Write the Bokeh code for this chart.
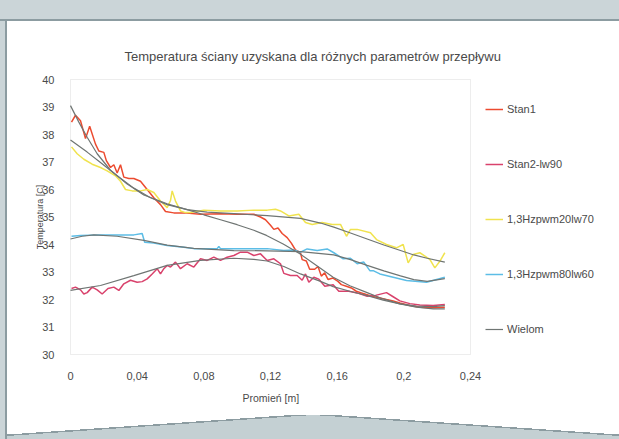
from bokeh.plotting import figure
from bokeh.models import (Range1d, FixedTicker, CustomJSTickFormatter, Legend,
                          LegendItem, BoxAnnotation, Title)
from bokeh.embed import file_html
from bokeh.resources import INLINE

# ---- data: radius [m] and wall temperature [C] ----
stan1_x = [0.0006, 0.003, 0.006, 0.009, 0.0115, 0.015, 0.017, 0.020, 0.0215, 0.024,
           0.026, 0.028, 0.030, 0.032, 0.035, 0.038, 0.042, 0.046, 0.050, 0.054,
           0.057, 0.062, 0.068, 0.078, 0.090, 0.100, 0.110, 0.114, 0.117, 0.120,
           0.122, 0.1245, 0.127, 0.130, 0.1325, 0.135, 0.138, 0.139, 0.1415, 0.1435,
           0.1465, 0.1485, 0.1505, 0.1525, 0.1545, 0.1575, 0.1605, 0.1625, 0.1655, 0.1685,
           0.1715, 0.1745, 0.1775, 0.1806, 0.1836, 0.1896, 0.1936, 0.1976, 0.2036, 0.2096,
           0.2176, 0.2246]
stan1_t = [38.45, 38.7, 38.5, 37.85, 38.3, 37.65, 37.4, 37.35, 37.05, 36.8,
           36.9, 36.6, 36.9, 36.45, 36.4, 36.4, 36.3, 36.0, 35.7, 35.45,
           35.2, 35.15, 35.15, 35.1, 35.12, 35.1, 35.1, 35.0, 34.9, 34.7,
           34.55, 34.6, 34.4, 34.25, 34.05, 33.8, 33.7, 33.45, 33.4, 33.1,
           33.1, 33.2, 32.85, 32.97, 32.73, 32.78, 32.66, 32.54, 32.48, 32.42,
           32.3, 32.24, 32.18, 32.12, 32.08, 32.0, 31.95, 31.87, 31.78, 31.72,
           31.7, 31.72]

stan2_x = [0.0006, 0.003, 0.006, 0.008, 0.010, 0.013, 0.016, 0.019, 0.0225, 0.026,
           0.029, 0.032, 0.036, 0.040, 0.043, 0.046, 0.049, 0.052, 0.054, 0.056,
           0.058, 0.060, 0.063, 0.066, 0.070, 0.074, 0.078, 0.082, 0.086, 0.090,
           0.094, 0.098, 0.102, 0.106, 0.110, 0.114, 0.118, 0.122, 0.126, 0.128,
           0.132, 0.136, 0.139, 0.141, 0.143, 0.146, 0.149, 0.1526, 0.1576, 0.161,
           0.167, 0.172, 0.178, 0.183, 0.1896, 0.1936, 0.1976, 0.2036, 0.2096, 0.2176,
           0.2246]
stan2_t = [32.4, 32.45, 32.35, 32.2, 32.25, 32.45, 32.35, 32.2, 32.4, 32.45,
           32.33, 32.57, 32.7, 32.63, 32.65, 32.75, 32.93, 33.12, 32.93, 33.12,
           33.24, 33.18, 33.36, 33.12, 33.3, 33.18, 33.48, 33.42, 33.54, 33.42,
           33.54, 33.6, 33.72, 33.72, 33.6, 33.66, 33.42, 33.48, 33.3, 32.95,
           32.87, 32.87, 32.7, 32.93, 32.63, 32.81, 32.74, 32.48, 32.54, 32.3,
           32.3, 32.24, 32.12, 32.15, 32.25, 32.1, 31.95, 31.85, 31.8, 31.78,
           31.82]

pwm20_x = [0.0006, 0.004, 0.008, 0.013, 0.018, 0.022, 0.027, 0.030, 0.033, 0.037,
           0.042, 0.046, 0.050, 0.054, 0.058, 0.060, 0.061, 0.063, 0.066, 0.069,
           0.072, 0.080, 0.090, 0.100, 0.110, 0.118, 0.123, 0.126, 0.131, 0.137,
           0.141, 0.145, 0.151, 0.157, 0.162, 0.1656, 0.168, 0.172, 0.180, 0.1836,
           0.1896, 0.1956, 0.1996, 0.2026, 0.2056, 0.2096, 0.2156, 0.2186, 0.2216, 0.2246]
pwm20_t = [37.55, 37.3, 37.1, 36.92, 36.8, 36.68, 36.5, 36.3, 36.0, 35.95,
           35.95, 36.0, 35.89, 35.58, 35.34, 35.6, 35.95, 35.58, 35.22, 35.16,
           35.16, 35.25, 35.22, 35.22, 35.25, 35.25, 35.28, 35.22, 35.04, 35.1,
           34.8, 34.73, 34.8, 34.73, 34.73, 34.3, 34.55, 34.55, 34.43, 34.18,
           34.0, 33.88, 34.0, 33.33, 33.64, 33.7, 33.46, 33.15, 33.39, 33.7]

pwm80_x = [0.0006, 0.006, 0.018, 0.028, 0.038, 0.043, 0.0445, 0.050, 0.058, 0.068,
           0.074, 0.088, 0.089, 0.090, 0.098, 0.118, 0.128, 0.134, 0.138, 0.142,
           0.148, 0.154, 0.158, 0.1636, 0.168, 0.172, 0.176, 0.1796, 0.1816, 0.1856,
           0.1936, 0.2016, 0.2136, 0.2246]
pwm80_t = [34.3, 34.33, 34.35, 34.35, 34.35, 34.4, 34.08, 34.05, 33.96, 33.9,
           33.85, 33.85, 33.93, 33.85, 33.85, 33.85, 33.78, 33.8, 33.72, 33.84,
           33.78, 33.84, 33.7, 33.48, 33.5, 33.3, 33.36, 33.05, 33.05, 32.93,
           32.81, 32.69, 32.63, 32.81]

# polynomial trend lines ("Wielom") for each series
trend1_x = [0.0, 0.005, 0.01, 0.016, 0.024, 0.034, 0.044, 0.058, 0.07, 0.08,
            0.09, 0.1, 0.11, 0.1176, 0.1276, 0.1376, 0.1476, 0.1576, 0.1676, 0.1776,
            0.1876, 0.1976, 0.2076, 0.2176, 0.2246]
trend1_t = [39.05, 38.45, 37.9, 37.3, 36.7, 36.2, 35.8, 35.48, 35.27, 35.08,
            34.9, 34.72, 34.52, 34.33, 34.02, 33.66, 33.24, 32.81, 32.5, 32.26,
            32.02, 31.84, 31.72, 31.66, 31.66]

trend2_x = [0.0, 0.018, 0.038, 0.058, 0.078, 0.098, 0.110, 0.118, 0.128, 0.138,
            0.15, 0.1576, 0.1676, 0.1776, 0.1876, 0.1976, 0.2076, 0.2176, 0.2246]
trend2_t = [32.33, 32.51, 32.87, 33.24, 33.42, 33.5, 33.46, 33.4, 33.2, 32.93,
            32.66, 32.47, 32.3, 32.15, 31.98, 31.84, 31.76, 31.74, 31.78]

trend3_x = [0.0, 0.01, 0.018, 0.028, 0.038, 0.048, 0.058, 0.07, 0.082, 0.098,
            0.118, 0.138, 0.15, 0.158, 0.168, 0.178, 0.188, 0.198, 0.206, 0.214, 0.2246]
trend3_t = [37.8, 37.36, 36.98, 36.5, 36.05, 35.7, 35.45, 35.27, 35.18, 35.12,
            35.05, 34.95, 34.78, 34.63, 34.42, 34.2, 33.98, 33.78, 33.62, 33.5, 33.36]

trend4_x = [0.0, 0.007, 0.014, 0.028, 0.044, 0.058, 0.074, 0.098, 0.118, 0.138,
            0.158, 0.168, 0.178, 0.188, 0.198, 0.206, 0.214, 0.2246]
trend4_t = [34.2, 34.3, 34.35, 34.3, 34.15, 33.98, 33.86, 33.78, 33.77, 33.74,
            33.62, 33.45, 33.24, 33.04, 32.86, 32.72, 32.66, 32.76]

x_ticks = [0, 0.04, 0.08, 0.12, 0.16, 0.2, 0.24]
y_ticks = [30, 31, 32, 33, 34, 35, 36, 37, 38, 39, 40]
X_MIN, X_MAX = 0, 0.24
Y_MIN, Y_MAX = 30, 40

TITLE = "Temperatura ściany uzyskana dla różnych parametrów przepływu"
FONT = "Liberation Sans"
TXT = "#4a4a4a"

W, H = 619, 439
# the frame runs to the right edge so the legend can sit inside it; the
# plot-area box covering X_MIN..X_MAX is drawn as an annotation
LEFT, TOP, BOTTOM = 69, 78, 355
PX_X = (X_MAX - X_MIN) / 400.0     # data units per pixel, x
PX_Y = (Y_MAX - Y_MIN) / 275.0     # data units per pixel, y
x_end = X_MIN - PX_X + (W - LEFT) * PX_X

p = figure(width=W, height=H,
           x_range=Range1d(X_MIN - PX_X, x_end),
           y_range=Range1d(Y_MIN - PX_Y, Y_MAX + PX_Y),
           output_backend="svg", toolbar_location=None,
           min_border_left=LEFT, min_border_right=0,
           min_border_top=TOP, min_border_bottom=H - BOTTOM)
p.background_fill_color = "white"
p.border_fill_color = None
p.outline_line_color = None
p.grid.visible = False

p.add_layout(BoxAnnotation(left=X_MIN, right=X_MAX, bottom=Y_MIN, top=Y_MAX,
                           fill_alpha=0, line_color="#c4c4c4", line_width=1,
                           level="underlay"))

# page panel behind the transparent canvas border: grey top/left band with an
# edge line, and a grey "roof" along the bottom
BAND = "#cbd5d8"
EDGE = "#8c9ca1"
ROOF = "#c4d0d3"
layers = [
    (f"linear-gradient(to bottom, {BAND} 0px, {BAND} 19px, {EDGE} 19px, {EDGE} 21px, transparent 21px)",
     f"{W}px 21px", "0px 0px"),
    (f"linear-gradient(to right, {BAND} 0px, {BAND} 5px, {EDGE} 5px, {EDGE} 7px, transparent 7px)",
     f"7px {H}px", "0px 0px"),
    (f"linear-gradient(to bottom right, transparent calc(50% - 1.5px), {EDGE} calc(50% - 1.5px), {EDGE} 50%, {ROOF} 50%)",
     "306px 21px", "7px 415px"),
    (f"linear-gradient(to top right, {ROOF} 50%, {EDGE} 50%, {EDGE} calc(50% + 1.5px), transparent calc(50% + 1.5px))",
     "306px 21px", "313px 415px"),
    (f"linear-gradient({ROOF}, {ROOF})", "612px 3px", "7px 436px"),
]
p.styles = {
    "background-color": "white",
    "background-image": ", ".join(l[0] for l in layers),
    "background-size": ", ".join(l[1] for l in layers),
    "background-position": ", ".join(l[2] for l in layers),
    "background-repeat": ", ".join("no-repeat" for _ in layers),
    "background-origin": "border-box",
    "overflow": "hidden",
}

for ax in (p.xaxis[0], p.yaxis[0]):
    ax.axis_line_color = None
    ax.major_tick_line_color = None
    ax.minor_tick_line_color = None
    ax.major_label_text_font = FONT
    ax.major_label_text_font_size = "11px"
    ax.major_label_text_color = TXT
    ax.axis_label_text_font = FONT
    ax.axis_label_text_font_style = "normal"
    ax.axis_label_text_color = TXT

p.xaxis.ticker = FixedTicker(ticks=x_ticks)
p.xaxis.formatter = CustomJSTickFormatter(
    code="return String(Math.round(tick * 100) / 100).replace('.', ',');")
p.xaxis.major_label_standoff = 10

p.yaxis.ticker = FixedTicker(ticks=y_ticks)
p.yaxis.major_label_standoff = 9
p.yaxis.axis_label = "Temperatura [C]"
p.yaxis.axis_label_text_font_size = "9px"
p.yaxis.axis_label_standoff = -6

# chart title, left-aligned with an offset so it sits centred over plot + legend
p.title.text = TITLE
p.title.align = "left"
p.title.offset = 124 - LEFT
p.title.standoff = 29
p.title.text_font = FONT
p.title.text_font_size = "13px"
p.title.text_font_style = "normal"
p.title.text_color = TXT

# x-axis caption under the middle of the plot area
p.add_layout(Title(text="Promień [m]", align="left", offset=242 - LEFT,
                   standoff=14, text_font=FONT, text_font_size="10.5px",
                   text_font_style="normal", text_color=TXT), "below")

# measured series
r1 = p.line(stan1_x, stan1_t, line_color="#ec4b30", line_width=1.5)
r2 = p.line(stan2_x, stan2_t, line_color="#d9426c", line_width=1.5)
r3 = p.line(pwm20_x, pwm20_t, line_color="#f0e34e", line_width=1.5)
r4 = p.line(pwm80_x, pwm80_t, line_color="#5cbde6", line_width=1.5)

# trend lines drawn over the data
TREND = "#6f7573"
t1 = p.line(trend1_x, trend1_t, line_color=TREND, line_width=1.2)
p.line(trend2_x, trend2_t, line_color=TREND, line_width=1.2)
p.line(trend3_x, trend3_t, line_color=TREND, line_width=1.2)
p.line(trend4_x, trend4_t, line_color=TREND, line_width=1.2)

legend = Legend(items=[
    LegendItem(label="Stan1", renderers=[r1]),
    LegendItem(label="Stan2-lw90", renderers=[r2]),
    LegendItem(label="1,3Hzpwm20lw70", renderers=[r3]),
    LegendItem(label="1,3Hzpwm80lw60", renderers=[r4]),
    LegendItem(label="Wielom", renderers=[t1]),
], location=(485 - LEFT, BOTTOM - 339), orientation="vertical", padding=0, margin=0,
    spacing=35, glyph_width=18, glyph_height=20, label_height=20, label_standoff=4,
    border_line_color=None, background_fill_alpha=0,
    label_text_font=FONT, label_text_font_size="11px", label_text_color=TXT)
p.add_layout(legend)

open("out.html", "w").write(file_html(p, INLINE))
